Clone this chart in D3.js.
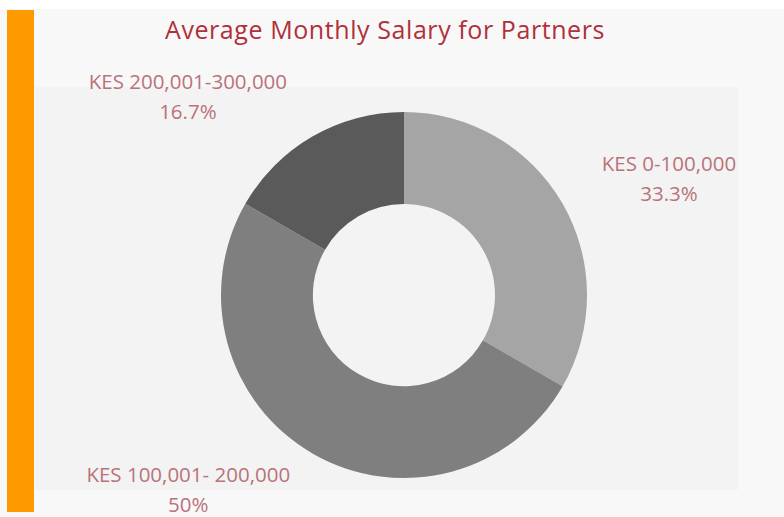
<!DOCTYPE html>
<html>
<head>
<meta charset="utf-8">
<script src="https://cdn.jsdelivr.net/npm/d3@7"></script>
<style>
    html, body { margin: 0; padding: 0; background: #ffffff; }
    svg { display: block; }
</style>
</head>
<body>
<svg id="chart"></svg>
<script>
// chart data
const categories = ["KES 0-100,000", "KES 100,001- 200,000", "KES 200,001-300,000"];
const shares = [33.3, 50, 16.7];
const shareLabels = ["33.3%", "50%", "16.7%"];
const sliceColors = ["#a5a5a5", "#7f7f7f", "#5a5a5a"];
const title = "Average Monthly Salary for Partners";

const width = 784, height = 517;
const cx = 404, cy = 295;
const outerR = 183, innerR = 91;

const svg = d3.select("#chart")
    .attr("width", width)
    .attr("height", height);

// page background + panel
svg.append("rect")
    .attr("x", 0).attr("y", 9)
    .attr("width", width).attr("height", height - 9)
    .attr("fill", "#f8f8f8");

svg.append("rect")
    .attr("x", 35).attr("y", 87)
    .attr("width", 703).attr("height", 403)
    .attr("fill", "#f3f3f3");

// orange side bar
svg.append("rect")
    .attr("x", 7).attr("y", 10)
    .attr("width", 27).attr("height", 502)
    .attr("fill", "#ff9900");

// title, spread out to the width it has in the original
const titleText = svg.append("text")
    .attr("x", 385)
    .attr("y", 39)
    .attr("text-anchor", "middle")
    .style("font-family", "'Open Sans', sans-serif")
    .style("font-size", "25px")
    .style("fill", "#b0303b")
    .text(title);
const titleLen = titleText.node().getComputedTextLength();
if (titleLen < 440) {
    titleText.style("letter-spacing", ((440 - titleLen) / title.length) + "px");
}

// donut
const pie = d3.pie().sort(null).value(d => d);
const arc = d3.arc().innerRadius(innerR).outerRadius(outerR);
const arcs = pie(shares);

const g = svg.append("g").attr("transform", `translate(${cx},${cy})`);

g.selectAll("path.slice")
    .data(arcs)
    .enter()
    .append("path")
    .attr("class", "slice")
    .attr("d", arc)
    .attr("fill", (d, i) => sliceColors[i]);

// labels: pushed out sideways from the slice mid angle
const labelG = g.selectAll("g.label")
    .data(arcs)
    .enter()
    .append("g")
    .attr("class", "label")
    .attr("transform", d => {
        const a = (d.startAngle + d.endAngle) / 2;
        const s = Math.sin(a);
        const x = Math.sign(s) * 149 + 134 * s;
        const y = -227 * Math.cos(a);
        return `translate(${x},${y})`;
    });

labelG.append("text")
    .attr("y", -10)
    .attr("text-anchor", "middle")
    .style("font-family", "'Open Sans', sans-serif")
    .style("font-size", "20.5px")
    .style("fill", "#b9737a")
    .text((d, i) => categories[i]);

labelG.append("text")
    .attr("y", 20)
    .attr("text-anchor", "middle")
    .style("font-family", "'Open Sans', sans-serif")
    .style("font-size", "20.5px")
    .style("fill", "#b9737a")
    .text((d, i) => shareLabels[i]);
</script>
</body>
</html>
